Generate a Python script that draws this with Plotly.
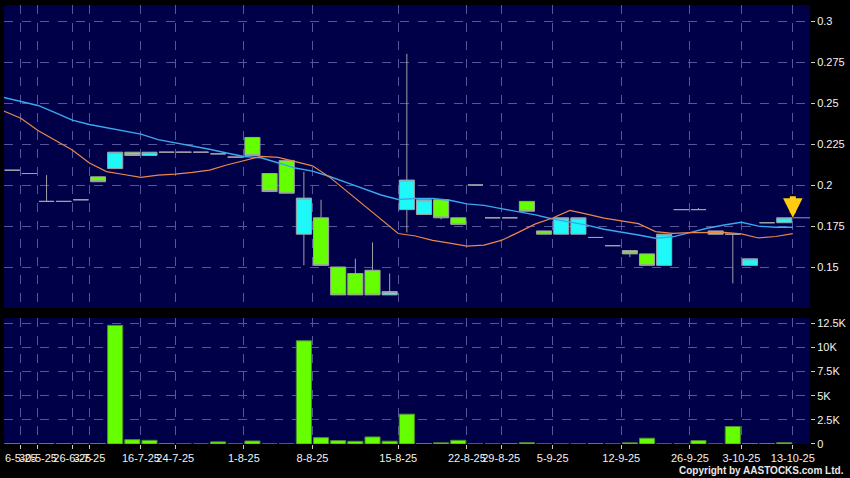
import plotly.graph_objects as go

# ---- data ----
opens = [0.209, 0.207, 0.190, 0.190, 0.191, 0.205, 0.210, 0.220, 0.218, 0.220,
         0.220, 0.220, 0.219, 0.217, 0.229, 0.207, 0.215, 0.170, 0.180, 0.150,
         0.146, 0.148, 0.133, 0.185, 0.182, 0.191, 0.180, 0.200, 0.180, 0.180,
         0.190, 0.172, 0.170, 0.170, 0.168, 0.163, 0.160, 0.158, 0.151, 0.185,
         0.185, 0.170, 0.170, 0.151, 0.177, 0.177]
highs = [0.209, 0.207, 0.206, 0.190, 0.191, 0.205, 0.220, 0.220, 0.220, 0.220,
         0.220, 0.220, 0.219, 0.217, 0.229, 0.207, 0.215, 0.208, 0.191, 0.150,
         0.155, 0.165, 0.146, 0.280, 0.191, 0.191, 0.180, 0.200, 0.180, 0.180,
         0.190, 0.172, 0.180, 0.180, 0.168, 0.163, 0.160, 0.158, 0.170, 0.185,
         0.186, 0.172, 0.170, 0.155, 0.177, 0.180]
lows = [0.209, 0.207, 0.190, 0.190, 0.191, 0.202, 0.210, 0.218, 0.218, 0.220,
        0.220, 0.220, 0.219, 0.217, 0.218, 0.196, 0.195, 0.151, 0.151, 0.133,
        0.133, 0.133, 0.133, 0.171, 0.182, 0.179, 0.176, 0.200, 0.180, 0.180,
        0.184, 0.170, 0.170, 0.170, 0.168, 0.163, 0.156, 0.151, 0.151, 0.185,
        0.185, 0.170, 0.140, 0.151, 0.177, 0.177]
closes = [0.209, 0.207, 0.190, 0.190, 0.191, 0.202, 0.220, 0.218, 0.220, 0.220,
          0.220, 0.220, 0.219, 0.217, 0.218, 0.196, 0.195, 0.192, 0.151, 0.133,
          0.133, 0.133, 0.135, 0.203, 0.191, 0.180, 0.176, 0.200, 0.180, 0.180,
          0.184, 0.170, 0.180, 0.180, 0.168, 0.163, 0.158, 0.151, 0.170, 0.185,
          0.185, 0.172, 0.170, 0.155, 0.177, 0.180]
volumes_k = [0.05, 0.05, 0.05, 0.03, 0.05, 0.05, 12.29, 0.45, 0.38, 0.04,
             0.0, 0.0, 0.22, 0.0, 0.31, 0.0, 0.0, 10.69, 0.66, 0.35,
             0.28, 0.73, 0.29, 3.09, 0.05, 0.12, 0.38, 0.0, 0.0, 0.04,
             0.13, 0.0, 0.0, 0.0, 0.04, 0.0, 0.12, 0.60, 0.0, 0.0,
             0.35, 0.0, 1.81, 0.04, 0.04, 0.13]
# moving averages (first value belongs to the session before the first candle)
ma10 = [0.2451, 0.2407, 0.2332, 0.2273, 0.2213, 0.2134, 0.2082, 0.2064, 0.2047, 0.2060,
        0.2066, 0.2077, 0.2091, 0.2122, 0.2150, 0.2174, 0.2168, 0.2143, 0.2117, 0.2048,
        0.1961, 0.1874, 0.1787, 0.1704, 0.1689, 0.1662, 0.1646, 0.1627, 0.1633, 0.1662,
        0.1711, 0.1763, 0.1799, 0.1845, 0.1822, 0.1798, 0.1781, 0.1764, 0.1716, 0.1705,
        0.1710, 0.1710, 0.1711, 0.1702, 0.1677, 0.1686, 0.1704]
ma20 = [0.2534, 0.2510, 0.2485, 0.2442, 0.2396, 0.2369, 0.2349, 0.2329, 0.2310, 0.2277,
        0.2258, 0.2238, 0.2218, 0.2195, 0.2174, 0.2166, 0.2134, 0.2104, 0.2085, 0.2052,
        0.2014, 0.1976, 0.1939, 0.1912, 0.1918, 0.1918, 0.1907, 0.1885, 0.1876, 0.1856,
        0.1836, 0.1818, 0.1793, 0.1774, 0.1755, 0.1730, 0.1714, 0.1695, 0.1675, 0.1684,
        0.1710, 0.1736, 0.1756, 0.1773, 0.1749, 0.1742, 0.1742]
tick_idx = [0, 1, 3, 4, 7, 9, 13, 17, 22, 26, 28, 31, 35, 39, 42, 45]
tick_text = ["6-5-25", "30-5-25", "26-6-25", "3-7-25", "16-7-25", "24-7-25", "1-8-25",
             "8-8-25", "15-8-25", "22-8-25", "29-8-25", "5-9-25", "12-9-25", "26-9-25",
             "3-10-25", "13-10-25"]
price_ticks = [0.15, 0.175, 0.2, 0.225, 0.25, 0.275, 0.3]
price_tick_text = ["0.15", "0.175", "0.2", "0.225", "0.25", "0.275", "0.3"]
vol_ticks = [0, 2.5, 5, 7.5, 10, 12.5]
vol_tick_text = ["0", "2.5K", "5K", "7.5K", "10K", "12.5K"]

n = len(closes)
idx = list(range(n))
ma_x = [i + 0.5 for i in range(-1, n)]
tick_pos = [i + 0.5 for i in tick_idx]

GREEN = "#66ff00"
CYAN = "#1ff8f8"
GRID = "#55559a"
FONT = "Liberation Sans, Arial, sans-serif"

fig = go.Figure()

fig.add_trace(go.Scatter(x=ma_x, y=ma20, mode="lines",
                         line=dict(color="#3aa8ee", width=1.4),
                         xaxis="x", yaxis="y", hoverinfo="skip"))
fig.add_trace(go.Scatter(x=ma_x, y=ma10, mode="lines",
                         line=dict(color="#e8884a", width=1.2),
                         xaxis="x", yaxis="y", hoverinfo="skip"))

fig.add_trace(go.Candlestick(
    x=idx, open=opens, high=highs, low=lows, close=closes,
    increasing=dict(fillcolor=CYAN, line=dict(color="#a0a0a8", width=1)),
    decreasing=dict(fillcolor=GREEN, line=dict(color="#a0a0a8", width=1)),
    whiskerwidth=0, xaxis="x", yaxis="y"))

# last price marker line
fig.add_trace(go.Scatter(x=[n - 0.5, n + 0.6], y=[closes[-1], closes[-1]], mode="lines",
                         line=dict(color="#9a9aa8", width=1), xaxis="x", yaxis="y",
                         hoverinfo="skip"))

fig.add_trace(go.Bar(x=idx, y=volumes_k,
                     marker=dict(color=GREEN, line=dict(color="#4f8f30", width=1)),
                     xaxis="x2", yaxis="y2"))

fig.add_annotation(x=n - 0.5, y=closes[-1], xref="x", yref="y", text="",
                   showarrow=True, ax=0, ay=-23, arrowhead=2, arrowsize=0.65,
                   arrowwidth=6, arrowcolor="#ffcc11", standoff=0)

fig.add_annotation(x=1.0447, y=-0.0615, xref="paper", yref="paper",
                   text="<b>Copyright by AASTOCKS.com Ltd.</b>", showarrow=False,
                   xanchor="right", yanchor="middle",
                   font=dict(family=FONT, size=10, color="#e8e8e8"))

xrange = [-0.48, 46.5]
fig.update_layout(
    width=850, height=478,
    margin=dict(l=4, r=40, t=5, b=34),
    paper_bgcolor="black", plot_bgcolor="#000048",
    showlegend=False, boxgap=0.12, boxgroupgap=0, bargap=0.12,
    font=dict(family=FONT, size=11, color="#f2f2f2"),
    xaxis=dict(domain=[0, 1], anchor="y", range=xrange, tickvals=tick_pos,
               showticklabels=False, ticks="", showgrid=True, gridcolor=GRID,
               griddash="dash", gridwidth=1, zeroline=False,
               rangeslider=dict(visible=False)),
    yaxis=dict(domain=[0.3098, 1], anchor="x", side="right", range=[0.125, 0.30976],
               tickvals=price_ticks, ticktext=price_tick_text, ticks="outside",
               ticklen=4, tickcolor="#cccccc", showgrid=True, gridcolor=GRID,
               griddash="dash", zeroline=False),
    xaxis2=dict(domain=[0, 1], anchor="y2", range=xrange, matches="x", tickvals=tick_pos,
                ticktext=tick_text, tickangle=0, ticks="outside", ticklen=4,
                tickcolor="#cccccc", showgrid=True, gridcolor=GRID, griddash="dash",
                zeroline=False),
    yaxis2=dict(domain=[0, 0.287], anchor="x2", side="right", range=[0, 13.05],
                tickvals=vol_ticks, ticktext=vol_tick_text, ticks="outside",
                ticklen=4, tickcolor="#cccccc", showgrid=True, gridcolor=GRID,
                griddash="dash", zeroline=False),
)

fig.write_html("out.html", config={"displayModeBar": False},
               post_script="document.body.style.margin='0px';document.body.style.background='black';")
